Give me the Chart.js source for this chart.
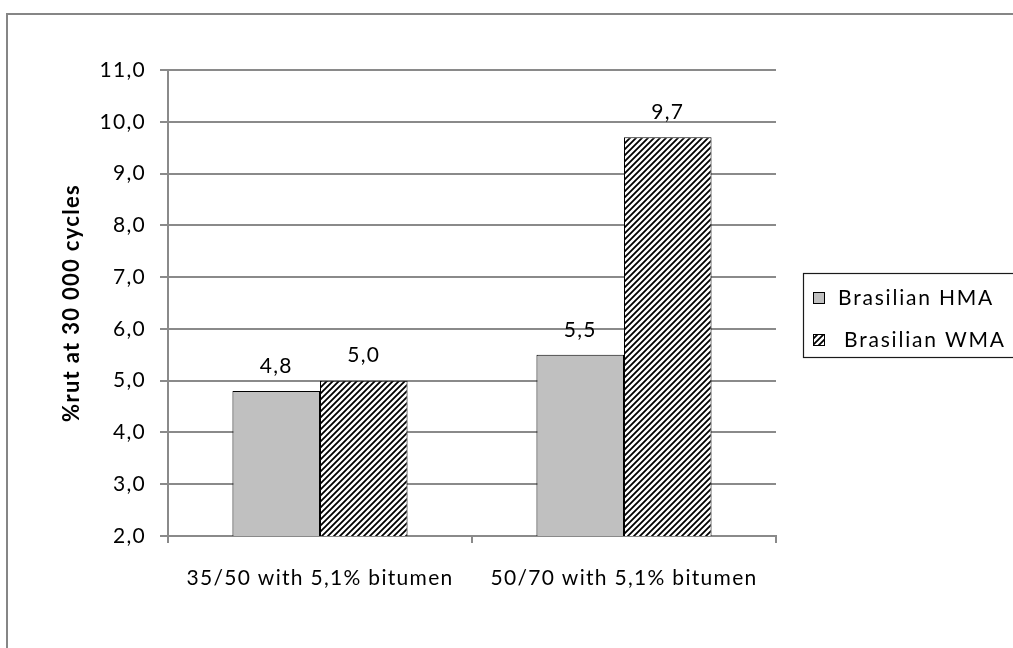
<!DOCTYPE html>
<html>
<head>
<meta charset="utf-8">
<script src="https://cdn.jsdelivr.net/npm/chart.js@4.4.1/dist/chart.umd.min.js"></script>
<style>
  html, body { margin: 0; padding: 0; background: #ffffff; }
  #wrap { width: 1013px; height: 648px; position: relative; }
</style>
</head>
<body>
<div id="wrap"><canvas id="c" width="1013" height="648"></canvas></div>
<script>
// ---- data ----
const categories = ['35/50 with 5,1% bitumen', '50/70 with 5,1% bitumen'];
const seriesNames = ['Brasilian HMA', 'Brasilian WMA'];
const hmaValues = [4.8, 5.5];
const wmaValues = [5.0, 9.7];
const yAxisTitle = '%rut at 30 000 cycles';
const yMin = 2, yMax = 11, yStep = 1;

// ---- style ----
const FONT = 'Lato, "Open Sans", sans-serif';
const FONT_SIZE = 21;
const LETTER_SPACING = '1.3px';
const AXIS_GRAY = '#8a8a8a';
const fmt = v => v.toFixed(1).replace('.', ',');

// diagonal hatch fill for the WMA series
function makeHatch() {
  const s = 6;
  const c = document.createElement('canvas');
  c.width = s; c.height = s;
  const g = c.getContext('2d');
  g.fillStyle = '#ffffff';
  g.fillRect(0, 0, s, s);
  g.strokeStyle = '#000000';
  g.lineWidth = 1.8;
  g.beginPath();
  g.moveTo(-1, s + 1); g.lineTo(s + 1, -1);
  g.moveTo(-2, 2); g.lineTo(2, -2);
  g.moveTo(s - 2, s + 2); g.lineTo(s + 2, s - 2);
  g.stroke();
  return g.createPattern(c, 'repeat');
}
const ctx = document.getElementById('c').getContext('2d');
const hatch = makeHatch();

// wider tracking for all chart text
const spacingPlugin = {
  id: 'spacing',
  beforeInit(chart) { chart.ctx.letterSpacing = LETTER_SPACING; },
  beforeUpdate(chart) { chart.ctx.letterSpacing = LETTER_SPACING; },
  beforeDraw(chart) { chart.ctx.letterSpacing = LETTER_SPACING; }
};

// outer frame of the chart object
const framePlugin = {
  id: 'frame',
  beforeDraw(chart) {
    const g = chart.ctx;
    g.save();
    g.fillStyle = '#ffffff';
    g.fillRect(0, 0, chart.width, chart.height);
    g.strokeStyle = '#868686';
    g.lineWidth = 2;
    g.beginPath();
    g.moveTo(7, chart.height + 5);
    g.lineTo(7, 14);
    g.lineTo(chart.width + 5, 14);
    g.stroke();
    g.restore();
  }
};

// value labels above each bar
const valueLabelPlugin = {
  id: 'valueLabels',
  afterDatasetsDraw(chart) {
    const g = chart.ctx;
    g.save();
    g.font = FONT_SIZE + 'px ' + FONT;
    g.fillStyle = '#000000';
    g.textAlign = 'center';
    g.textBaseline = 'middle';
    chart.data.datasets.forEach((ds, i) => {
      chart.getDatasetMeta(i).data.forEach((el, j) => {
        g.fillText(fmt(ds.data[j]), el.x, el.y - 25);
      });
    });
    g.restore();
  }
};

// boxed legend on the right
const legendBoxPlugin = {
  id: 'legendBox',
  afterDraw(chart) {
    const g = chart.ctx;
    const boxX = 803.5, boxY = 273.5, boxW = 230, boxH = 84;
    g.save();
    g.letterSpacing = '1.8px';
    g.strokeStyle = '#1a1a1a';
    g.lineWidth = 1.2;
    g.strokeRect(boxX, boxY, boxW, boxH);
    g.font = FONT_SIZE + 'px ' + FONT;
    g.textBaseline = 'middle';
    g.textAlign = 'left';
    chart.data.datasets.forEach((ds, i) => {
      const cy = 298 + i * 42;
      g.fillStyle = ds.backgroundColor;
      g.fillRect(813.5, cy - 5.5, 11, 11);
      g.strokeStyle = '#000000';
      g.lineWidth = 1;
      g.strokeRect(813.5, cy - 5.5, 11, 11);
      g.fillStyle = '#000000';
      g.fillText(ds.label, 838 + i * 6, cy);
    });
    g.restore();
  }
};

new Chart(ctx, {
  type: 'bar',
  data: {
    labels: categories,
    datasets: [
      {
        label: seriesNames[0],
        data: hmaValues,
        backgroundColor: '#c0c0c0',
        borderColor: '#000000',
        borderWidth: 1
      },
      {
        label: seriesNames[1],
        data: wmaValues,
        backgroundColor: hatch,
        borderColor: '#000000',
        borderWidth: 1
      }
    ]
  },
  options: {
    responsive: false,
    animation: false,
    devicePixelRatio: 1,
    categoryPercentage: 0.576,
    barPercentage: 1.0,
    layout: { padding: { left: 55, top: 70, right: 237, bottom: 0 } },
    plugins: {
      legend: { display: false },
      tooltip: { enabled: false }
    },
    scales: {
      x: {
        offset: true,
        grid: {
          offset: true,
          drawOnChartArea: false,
          drawTicks: true,
          tickLength: 7,
          color: AXIS_GRAY,
          lineWidth: 2
        },
        border: { color: AXIS_GRAY, width: 2 },
        ticks: {
          color: '#000000',
          font: { family: FONT, size: FONT_SIZE },
          padding: 23,
          maxRotation: 0
        },
        afterFit(scale) { scale.height = 112; }
      },
      y: {
        min: yMin,
        max: yMax,
        grid: {
          color: AXIS_GRAY,
          lineWidth: 2,
          tickLength: 8
        },
        border: { color: AXIS_GRAY, width: 2 },
        ticks: {
          stepSize: yStep,
          color: '#000000',
          font: { family: FONT, size: FONT_SIZE },
          padding: 14,
          callback: v => fmt(v)
        },
        title: {
          display: true,
          text: yAxisTitle,
          color: '#000000',
          font: { family: FONT, size: 22, weight: 'bold' },
          padding: { top: 4, bottom: 4 }
        },
        afterFit(scale) { scale.width = 113; }
      }
    }
  },
  plugins: [spacingPlugin, framePlugin, valueLabelPlugin, legendBoxPlugin]
});
</script>
</body>
</html>
